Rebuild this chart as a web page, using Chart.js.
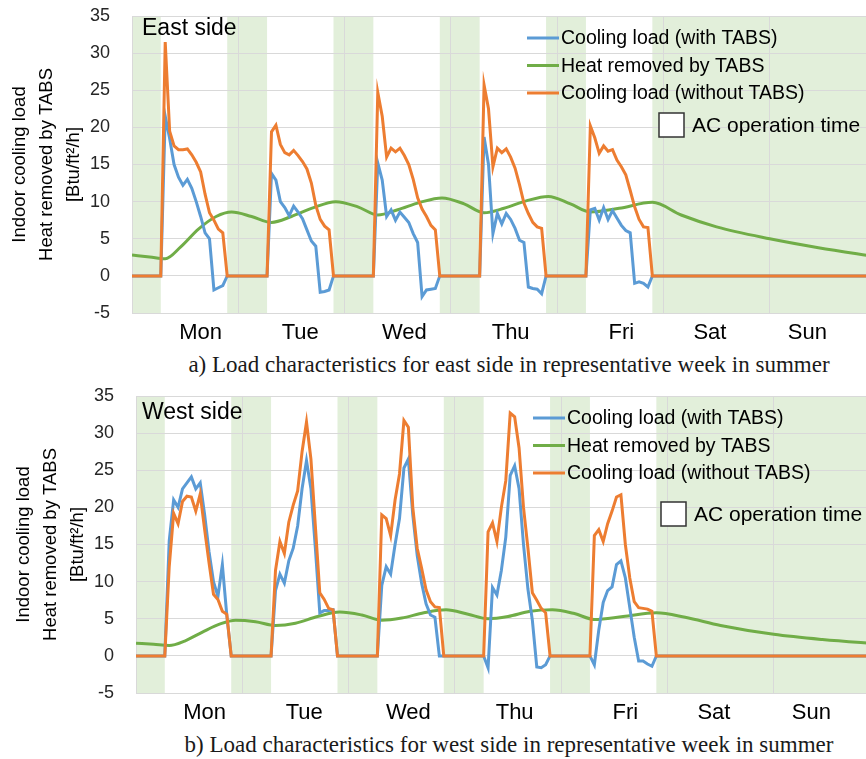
<!DOCTYPE html>
<html>
<head>
<meta charset="utf-8">
<script src="https://cdn.jsdelivr.net/npm/chart.js@4/dist/chart.umd.min.js"></script>
<style>
html, body { margin: 0; padding: 0; background: #fff; overflow: hidden; width: 866px; height: 759px; }
.box { position: absolute; left: 0; width: 884px; height: 346px; }
.caption { position: absolute; left: 509px; transform: translateX(-50%); white-space: nowrap;
  font-family: "Liberation Serif", "Times New Roman", serif; font-size: 23px; line-height: 26px; color: #1a1a1a; }
</style>
</head>
<body>
<div class="box" style="top:0px"><canvas id="east"></canvas></div>
<div class="caption" style="top:352px">a) Load characteristics for east side in representative week in summer</div>
<div class="box" style="top:380px"><canvas id="west"></canvas></div>
<div class="caption" style="top:732px">b) Load characteristics for west side in representative week in summer</div>
<script>
// week axis (hours from Monday 0:00)
const dayNames = ['Mon', 'Tue', 'Wed', 'Thu', 'Fri', 'Sat', 'Sun'];
const dayLabelHours = [15.5, 38, 61.5, 85.5, 110.5, 130.5, 152.5];

// shaded periods = AC off
const acOffStart = [0, 21.5, 45.5, 69.5, 93.5, 117.5];
const acOffEnd = [6.5, 30.5, 54.5, 78.5, 102.5, 168];

// hourly samples within each weekday (Mon..Fri)
const acHours = [6.5, 7.5, 8.5, 9.5, 10.5, 11.5, 12.5, 13.5, 14.5, 15.5, 16.5, 17.5, 18.5, 19.5, 20.5, 21.5];

// east side [Btu/ft2/h]
const eastWithTabs = [
    0, 21.5, 18.5, 15.0, 13.3, 12.2, 13.0, 11.8, 10.0, 8.0, 5.8, 5.0, -1.9, -1.6, -1.3, 0,
    0, 13.8, 12.9, 10.0, 9.2, 8.1, 9.4, 8.6, 7.7, 6.2, 4.7, 4.0, -2.2, -2.1, -1.9, 0,
    0, 15.2, 12.9, 8.0, 8.9, 7.5, 8.6, 7.9, 7.2, 5.7, 4.5, -2.8, -1.9, -1.8, -1.7, 0,
    0, 18.7, 15.0, 5.7, 8.4, 7.0, 8.4, 7.6, 6.4, 4.8, 4.5, -1.5, -1.7, -1.8, -2.4, 0,
    0, 8.9, 9.1, 7.5, 9.2, 7.6, 8.8, 7.8, 6.8, 6.1, 5.8, -1.0, -0.8, -1.0, -1.5, 0
];
const eastWithoutTabs = [
    0, 31.5, 19.5, 17.5, 17.0, 17.0, 17.1, 16.3, 15.3, 14.0, 11.0, 8.5, 7.5, 6.3, 5.8, 0,
    0, 19.4, 20.3, 17.7, 16.6, 16.3, 16.9, 16.2, 15.4, 14.4, 12.5, 9.5, 7.6, 6.7, 6.2, 0,
    0, 24.7, 21.5, 16.0, 17.2, 16.7, 17.2, 16.2, 15.0, 13.0, 10.5, 9.0, 8.0, 6.8, 6.2, 0,
    0, 25.7, 22.5, 14.7, 17.2, 16.6, 17.1, 16.0, 14.5, 12.3, 9.8, 8.4, 7.2, 6.6, 6.4, 0,
    0, 20.2, 18.6, 16.5, 17.5, 16.8, 17.0, 15.6, 14.7, 13.6, 11.5, 9.3, 7.6, 6.6, 6.5, 0
];

// west side [Btu/ft2/h]
const westWithTabs = [
    0, 15.5, 21.0, 20.0, 22.5, 23.3, 24.1, 22.5, 23.3, 19.0, 14.0, 10.0, 8.0, 12.3, 5.5, 0,
    0, 8.8, 11.0, 9.8, 12.8, 14.5, 17.5, 22.5, 26.3, 22.5, 14.5, 5.8, 6.1, 6.1, 6.2, 0,
    0, 9.5, 12.0, 11.0, 15.0, 18.5, 25.3, 26.5, 19.0, 13.5, 9.8, 7.0, 5.5, 5.2, 0, 0,
    0, -1.6, 9.2, 8.2, 11.5, 16.0, 24.3, 25.6, 22.5, 15.0, 9.0, 4.8, -1.5, -1.6, -1.2, 0,
    0, -1.2, 3.5, 7.2, 8.8, 9.3, 12.3, 12.8, 10.5, 6.5, 2.5, -0.7, -0.7, -1.1, -1.4, 0
];
const westWithoutTabs = [
    0, 12.0, 19.2, 17.8, 20.8, 21.5, 21.4, 19.5, 21.8, 17.0, 12.5, 8.3, 7.6, 6.0, 5.6, 0,
    0, 11.5, 15.4, 13.8, 18.0, 20.3, 22.2, 27.5, 31.5, 26.5, 17.5, 8.5, 7.6, 6.4, 6.2, 0,
    0, 19.0, 18.5, 16.2, 21.0, 24.5, 31.7, 30.8, 20.0, 14.5, 11.8, 8.9, 7.3, 6.6, 6.5, 0,
    0, 16.7, 17.9, 15.4, 20.0, 23.6, 32.7, 32.2, 28.0, 20.0, 14.5, 8.5, 7.5, 6.4, 5.8, 0,
    0, 16.2, 17.0, 15.4, 17.8, 19.5, 21.4, 21.7, 15.0, 10.5, 7.3, 6.5, 6.4, 6.3, 6.0, 0
];

// heat removed by TABS, read at these hours
const tabsHours = [0, 4, 7.5, 11, 15, 19, 22.5, 27, 31.5, 36, 41, 46, 51, 55.5, 60, 65, 70, 75, 79.5,
    84, 89, 94, 99, 103.5, 110, 117.5, 124, 132, 144, 155, 168];
const eastTabs = [2.8, 2.55, 2.3, 3.9, 6.3, 8.0, 8.6, 8.0, 7.2, 8.0, 9.2, 10.0, 9.3, 8.2, 8.9, 9.9, 10.5, 9.7, 8.5,
    9.1, 10.1, 10.7, 9.7, 8.6, 9.1, 9.9, 8.2, 6.6, 5.0, 3.8, 2.6];
const westTabs = [1.7, 1.55, 1.4, 2.0, 3.2, 4.3, 4.8, 4.6, 4.1, 4.4, 5.3, 5.9, 5.5, 4.8, 5.1, 5.8, 6.2, 5.6, 5.0,
    5.3, 6.0, 6.2, 5.7, 4.9, 5.3, 5.8, 5.2, 4.1, 2.9, 2.2, 1.6];

const FONT = '"Liberation Sans", Arial, sans-serif';

function weekdaySeries(values) {
    var pts = [{x: 0, y: 0}];
    for (let d = 0; d < 5; d++) {
        for (let i = 0; i < acHours.length; i++) {
            pts.push({x: d * 24 + acHours[i], y: values[d * acHours.length + i]});
        }
    }
    pts.push({x: 168, y: 0});
    return pts;
}

// no extra label padding around the plot, the layout padding places it
function noPad(s) {
    s.paddingTop = 0;
    s.paddingBottom = 0;
    s.paddingLeft = 0;
    s.paddingRight = 0;
}

const weekPlugin = {
    id: 'weekPlugin',
    beforeDraw(chart) {
        const {ctx, chartArea: a, scales: {x}} = chart;
        ctx.save();
        ctx.fillStyle = '#e2efda';
        for (let i = 0; i < acOffStart.length; i++) {
            const x0 = Math.max(x.getPixelForValue(acOffStart[i]), a.left);
            const x1 = Math.min(x.getPixelForValue(acOffEnd[i]), a.right);
            ctx.fillRect(x0, a.top, x1 - x0, a.bottom - a.top);
        }
        ctx.restore();
    },
    afterDatasetsDraw(chart, args, opts) {
        const {ctx, chartArea: a} = chart;
        ctx.save();
        ctx.textBaseline = 'middle';
        ctx.textAlign = 'left';
        ctx.fillStyle = '#000';
        ctx.font = '23px ' + FONT;
        ctx.fillText(opts.side, a.left + opts.sx, a.top + opts.sy);

        // legend
        ctx.font = '19.5px ' + FONT;
        chart.data.datasets.forEach((ds, i) => {
            const y = a.top + 22 + i * 27.5;
            const x0 = a.left + opts.lx;
            ctx.strokeStyle = ds.borderColor;
            ctx.lineWidth = 3;
            ctx.beginPath();
            ctx.moveTo(x0, y);
            ctx.lineTo(x0 + 32, y);
            ctx.stroke();
            ctx.fillText(ds.label, x0 + 34, y + 1);
        });
        ctx.fillStyle = '#fff';
        ctx.strokeStyle = '#333';
        ctx.lineWidth = 1.5;
        ctx.fillRect(a.left + opts.bx, a.top + opts.by, 25, 24);
        ctx.strokeRect(a.left + opts.bx, a.top + opts.by, 25, 24);
        ctx.fillStyle = '#000';
        ctx.font = '21px ' + FONT;
        ctx.fillText('AC operation time', a.left + opts.bx + 33, a.top + opts.by + 13);
        ctx.restore();
    }
};

function makeChart(id, withTabs, withoutTabs, tabs, pos) {
    var tabsPts = tabsHours.map((h, i) => ({x: h, y: tabs[i]}));
    var config = {
        type: 'line',
        data: {
            datasets: [{
                label: 'Cooling load (with TABS)',
                data: weekdaySeries(withTabs),
                borderColor: '#5b9bd5',
                order: 1
            }, {
                label: 'Heat removed by TABS',
                data: tabsPts,
                borderColor: '#70ad47',
                cubicInterpolationMode: 'monotone',
                order: 2
            }, {
                label: 'Cooling load (without TABS)',
                data: weekdaySeries(withoutTabs),
                borderColor: '#ed7d31',
                order: 0
            }]
        },
        options: {
            responsive: true,
            maintainAspectRatio: false,
            animation: false,
            events: [],
            devicePixelRatio: 1,
            layout: {padding: {top: 16, right: pos.right, left: 0, bottom: 0}},
            elements: {
                point: {radius: 0},
                line: {borderWidth: 3, fill: false, tension: 0}
            },
            scales: {
                x: {
                    type: 'linear',
                    min: 0,
                    max: 168,
                    ticks: {display: false, stepSize: 24},
                    grid: {color: '#d9d9d9', drawTicks: false},
                    border: {display: false},
                    afterFit: s => { s.height = 0; noPad(s); }
                },
                xl: {
                    type: 'linear',
                    position: 'bottom',
                    min: 0,
                    max: 168,
                    grid: {display: false, drawTicks: false},
                    border: {display: false},
                    afterBuildTicks: s => { s.ticks = dayLabelHours.map(v => ({value: v})); },
                    ticks: {
                        autoSkip: false,
                        maxRotation: 0,
                        padding: 7,
                        color: '#000',
                        font: {family: FONT, size: 22},
                        callback: (v, i) => dayNames[i]
                    },
                    afterFit: s => { s.height = 33; noPad(s); }
                },
                y: {
                    min: -5,
                    max: 35,
                    ticks: {stepSize: 5, padding: 22, color: '#262626', font: {family: FONT, size: 18}},
                    grid: {color: '#d9d9d9', drawTicks: false},
                    border: {display: false},
                    title: {
                        display: true,
                        text: ['Indoor cooling load', 'Heat removed by TABS', '[Btu/ft\u00b2/h]'],
                        color: '#000',
                        font: {family: FONT, size: 18.5, lineHeight: '27px'},
                        padding: {top: pos.titlePad, bottom: 0}
                    },
                    afterFit: s => { s.width = pos.axisWidth; noPad(s); }
                }
            },
            plugins: {
                legend: {display: false},
                tooltip: {enabled: false},
                weekPlugin: pos
            }
        },
        plugins: [weekPlugin]
    };
    return new Chart(document.getElementById(id), config);
}

makeChart('east', eastWithTabs, eastWithoutTabs, eastTabs,
    {side: 'East side', sx: 10, sy: 13, lx: 395, bx: 527, by: 97, right: 8, axisWidth: 132, titlePad: 6.5});
makeChart('west', westWithTabs, westWithoutTabs, westTabs,
    {side: 'West side', sx: 6, sy: 17, lx: 397, bx: 525, by: 106, right: 4, axisWidth: 136, titlePad: 10.5});
</script>
</body>
</html>
